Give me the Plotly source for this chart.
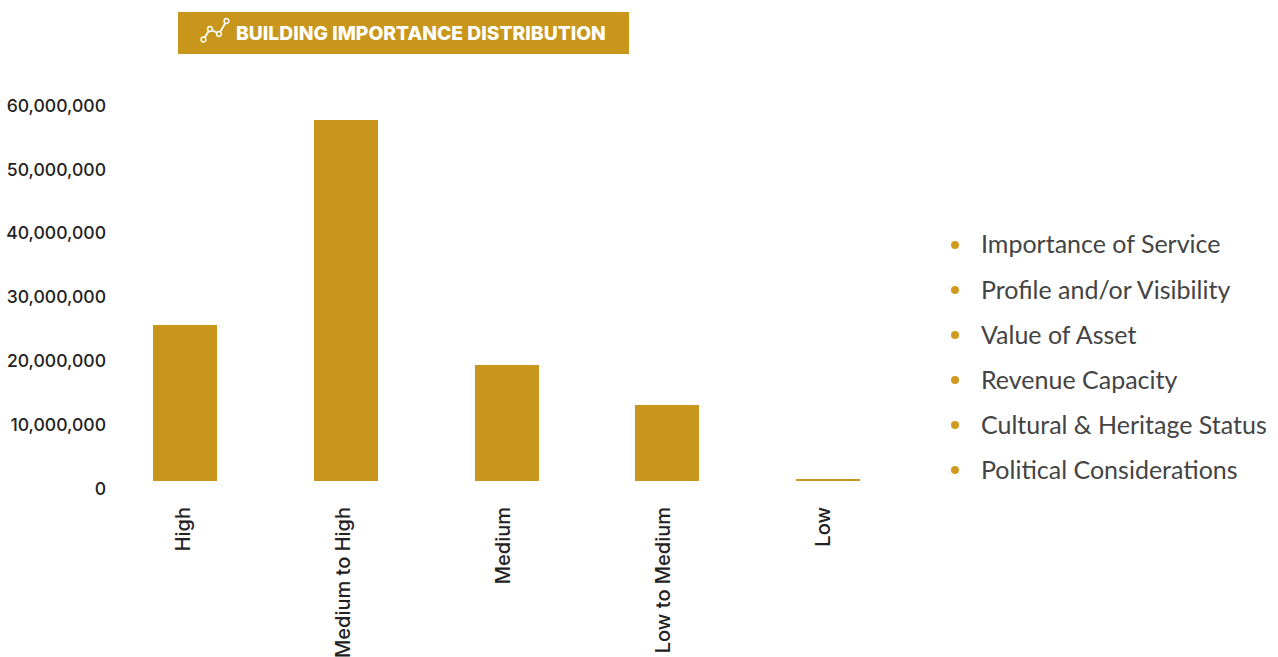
import plotly.graph_objects as go

W, H = 1278, 657
GOLD = "#C8961A"

categories = ["High", "Medium to High", "Medium", "Low to Medium", "Low"]
values = [24400000, 56500000, 18200000, 11900000, 310000]
y_ticks = [0, 10000000, 20000000, 30000000, 40000000, 50000000, 60000000]
factors = ["Importance of Service", "Profile and/or Visibility", "Value of Asset",
           "Revenue Capacity", "Cultural & Heritage Status", "Political Considerations"]
title_text = "BUILDING IMPORTANCE DISTRIBUTION"


def px(x):
    return x / W


def py(y):
    return 1 - y / H


fig = go.Figure()
fig.add_trace(go.Bar(x=categories, y=values, marker=dict(color=GOLD, line=dict(width=0)),
                     width=0.398, showlegend=False, hoverinfo="x+y"))
# invisible trace that carries the label axes, which sit slightly offset from the bars' scale
fig.add_trace(go.Scatter(x=categories, y=values, xaxis="x2", yaxis="y2",
                         mode="markers", marker=dict(opacity=0), showlegend=False, hoverinfo="skip"))

shapes = [dict(type="rect", xref="paper", yref="paper", x0=px(178), x1=px(629), y0=py(54), y1=py(12),
               fillcolor=GOLD, line=dict(width=0), layer="below")]

# banner icon
icon_pts = [(203.5, 39.5), (210, 29), (219, 34), (226.5, 21)]
for a, b in zip(icon_pts, icon_pts[1:]):
    shapes.append(dict(type="line", xref="paper", yref="paper", x0=px(a[0]), y0=py(a[1]), x1=px(b[0]), y1=py(b[1]),
                       line=dict(color="white", width=1.8)))
for cx, cy in icon_pts:
    shapes.append(dict(type="circle", xref="paper", yref="paper", x0=px(cx - 2.4), x1=px(cx + 2.4),
                       y0=py(cy + 2.4), y1=py(cy - 2.4), fillcolor=GOLD, line=dict(color="white", width=1.5)))

annotations = [dict(text=title_text, xref="paper", yref="paper", x=px(233.5), y=py(33.5),
                    xanchor="left", yanchor="middle", showarrow=False,
                    font=dict(family="Inter", size=19.3, weight=800, color="white"))]

for i, name in enumerate(factors):
    yc = 243.5 + 45 * i
    shapes.append(dict(type="circle", xref="paper", yref="paper", x0=px(951), x1=px(959),
                       y0=py(245 + 45 * i + 4), y1=py(245 + 45 * i - 4), fillcolor="#D19A1E", line=dict(width=0)))
    annotations.append(dict(text=name, xref="paper", yref="paper", x=px(979), y=py(yc),
                            xanchor="left", yanchor="middle", showarrow=False,
                            font=dict(family="Lato", size=25, color="#444444")))

fig.update_layout(
    width=W, height=H, margin=dict(l=0, r=0, t=0, b=0, autoexpand=False),
    paper_bgcolor="white", plot_bgcolor="rgba(0,0,0,0)", bargap=0, showlegend=False,
    font=dict(family="Inter", color="#222222"),
    xaxis=dict(domain=[px(104.8), px(908.2)], type="category", categoryorder="array", categoryarray=categories,
               range=[-0.5, 4.5], showgrid=False, showline=False, zeroline=False, ticks="",
               showticklabels=False, automargin=False, anchor="y"),
    xaxis2=dict(domain=[px(103.2), px(904)], type="category", categoryorder="array", categoryarray=categories,
                range=[-0.5, 4.5], showgrid=False, showline=False, zeroline=False, ticks="",
                tickangle=-90, tickfont=dict(family="Inter", size=20, weight=500, color="#222222"),
                ticklabelstandoff=21, automargin=False, anchor="y"),
    yaxis=dict(domain=[py(481), py(98)], range=[0, 60000000], showgrid=False, showline=False, zeroline=False,
               showticklabels=False, ticks="", automargin=False),
    yaxis2=dict(domain=[py(488.5), py(105.5)], range=[0, 60000000], anchor="free", position=px(106), side="left",
                tickvals=y_ticks, tickformat=",d", showgrid=False, showline=False, zeroline=False, ticks="",
                tickfont=dict(family="Inter", size=17.6, weight=500, color="#222222"), automargin=False),
    shapes=shapes, annotations=annotations,
)

fig.write_html("out.html", post_script="document.body.style.margin='0';document.body.style.overflow='hidden';",
               config=dict(displayModeBar=False))
